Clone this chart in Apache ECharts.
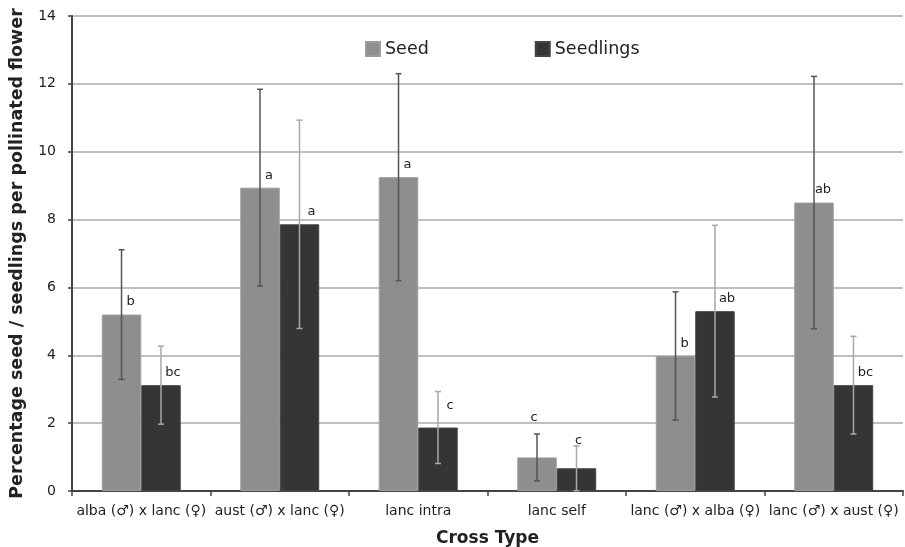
<!DOCTYPE html>
<html><head><meta charset="utf-8">
<script src="https://cdn.jsdelivr.net/npm/echarts@6/dist/echarts.min.js"></script>
<style>html,body{margin:0;padding:0;background:#fff}#c{width:905px;height:547px}</style>
</head><body><div id="c"></div>
<script>
const categories = ['alba (♂) x lanc (♀)', 'aust (♂) x lanc (♀)', 'lanc intra', 'lanc self', 'lanc (♂) x alba (♀)', 'lanc (♂) x aust (♀)'];
const seedValues = [5.2, 8.94, 9.25, 0.99, 3.98, 8.5];
const seedErrors = [1.91, 2.9, 3.05, 0.69, 1.89, 3.72];
const seedLetters = ['b', 'a', 'a', 'c', 'b', 'ab'];
const seedlingValues = [3.12, 7.86, 1.87, 0.67, 5.3, 3.12];
const seedlingErrors = [1.15, 3.07, 1.06, 0.66, 2.53, 1.44];
const seedlingLetters = ['bc', 'a', 'c', 'c', 'ab', 'bc'];
const yTicks = [0, 2, 4, 6, 8, 10, 12, 14];

const FONT = 'DejaVu Sans';
const CAT_GAP = 0.43;
const chart = echarts.init(document.getElementById('c'));

function letterOffset(i, isSeed) {
  if (categories[i] === 'lanc self') return [isSeed ? -3 : 2, isSeed ? -28 : -16];
  if (categories[i] === 'lanc intra' && !isSeed) return [12, -10];
  return [isSeed ? 9 : 12, -1];
}

function errSeries(vals, errs, side, color) {
  return {
    type: 'custom',
    z: 5,
    silent: true,
    data: vals.map((v, i) => [i, v - errs[i], v + errs[i]]),
    renderItem: function (params, api) {
      const band = api.size([1, 0])[0];
      const barW = band * (1 - CAT_GAP) / 2;
      const lo = api.coord([api.value(0), api.value(1)]);
      const hi = api.coord([api.value(0), api.value(2)]);
      const x = lo[0] + side * barW / 2;
      const cap = 3;
      const st = { stroke: color, lineWidth: 1.5 };
      return {
        type: 'group',
        children: [
          { type: 'line', shape: { x1: x, y1: lo[1], x2: x, y2: hi[1] }, style: st },
          { type: 'line', shape: { x1: x - cap, y1: lo[1], x2: x + cap, y2: lo[1] }, style: st },
          { type: 'line', shape: { x1: x - cap, y1: hi[1], x2: x + cap, y2: hi[1] }, style: st }
        ]
      };
    }
  };
}

chart.setOption({
  animation: false,
  backgroundColor: '#fff',
  grid: { left: 72, right: 2, top: 16, bottom: 56, containLabel: false, outerBoundsMode: 'none' },
  legend: {
    left: 360, top: 35,
    itemWidth: 14, itemHeight: 14, itemGap: 106,
    icon: 'rect',
    textStyle: { fontFamily: FONT, fontSize: 17.5, color: '#222' },
    data: ['Seed', 'Seedlings']
  },
  xAxis: {
    type: 'category',
    data: categories,
    name: 'Cross Type',
    nameLocation: 'middle',
    nameGap: 39,
    nameTextStyle: { fontFamily: FONT, fontSize: 17, fontWeight: 'bold', color: '#222' },
    axisLine: { lineStyle: { color: '#444', width: 2 } },
    axisTick: { show: true, length: 5, lineStyle: { color: '#444', width: 1.5 } },
    axisLabel: { fontFamily: FONT, fontSize: 14, color: '#222', margin: 13, interval: 0 }
  },
  yAxis: {
    type: 'value',
    min: yTicks[0], max: yTicks[yTicks.length - 1], interval: 2,
    name: 'Percentage seed / seedlings per pollinated flower',
    nameLocation: 'middle',
    nameGap: 46,
    nameTextStyle: { fontFamily: FONT, fontSize: 17.5, fontWeight: 'bold', color: '#222' },
    axisLine: { show: true, lineStyle: { color: '#444', width: 2 } },
    axisTick: { show: true, length: 4, lineStyle: { color: '#444', width: 1.5 } },
    axisLabel: { fontFamily: FONT, fontSize: 14, color: '#222', margin: 16 },
    splitLine: { lineStyle: { color: '#aaa', width: 1.5 } }
  },
  series: [
    {
      name: 'Seed', type: 'bar', barGap: '0%', barCategoryGap: (CAT_GAP * 100) + '%',
      itemStyle: { color: '#8e8e8e', borderColor: '#9c9c9c', borderWidth: 1 },
      data: seedValues.map((v, i) => ({
        value: v,
        label: { show: true, position: 'top', formatter: seedLetters[i], offset: letterOffset(i, true),
          fontFamily: FONT, fontSize: 13, color: '#222' }
      }))
    },
    {
      name: 'Seedlings', type: 'bar', barGap: '0%', barCategoryGap: (CAT_GAP * 100) + '%',
      itemStyle: { color: '#353535', borderColor: '#444', borderWidth: 1 },
      data: seedlingValues.map((v, i) => ({
        value: v,
        label: { show: true, position: 'top', formatter: seedlingLetters[i], offset: letterOffset(i, false),
          fontFamily: FONT, fontSize: 13, color: '#222' }
      }))
    },
    errSeries(seedValues, seedErrors, -1, '#555'),
    errSeries(seedlingValues, seedlingErrors, 1, '#a8a8a8')
  ]
});
</script></body></html>
